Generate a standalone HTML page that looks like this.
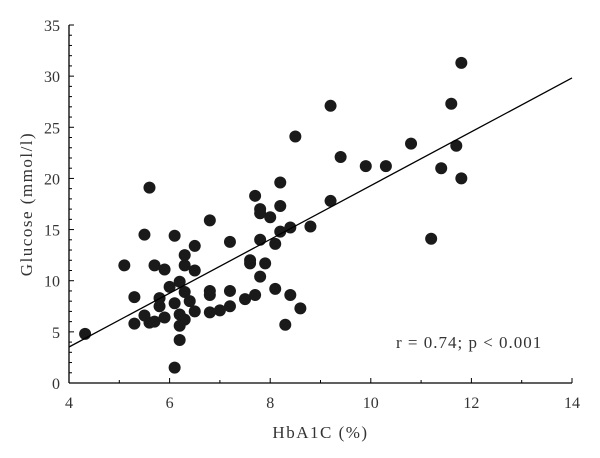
<!DOCTYPE html>
<html><head><meta charset="utf-8"><style>
body{margin:0;background:#fff}
svg{display:block;font-family:"Liberation Serif",serif}
</style></head><body>
<svg id="c" width="600" height="458"></svg>
<script>
const xVals=[4.32,5.1,5.3,5.3,5.5,5.5,5.6,5.6,5.7,5.7,5.8,5.8,5.9,5.9,6.0,6.1,6.1,6.1,6.2,6.2,6.2,6.2,6.3,6.3,6.3,6.3,6.4,6.5,6.5,6.5,6.8,6.8,6.8,6.8,7.0,7.2,7.2,7.2,7.5,7.6,7.6,7.7,7.7,7.8,7.8,7.8,7.8,7.9,8.0,8.1,8.1,8.2,8.2,8.2,8.3,8.4,8.4,8.6,8.5,8.8,9.2,9.2,9.4,9.9,10.3,10.8,11.2,11.4,11.6,11.7,11.8,11.8];
const yVals=[4.8,11.5,8.4,5.8,14.5,6.6,19.1,5.9,11.5,6.0,8.3,7.5,11.1,6.4,9.4,14.4,7.8,1.5,9.9,6.7,5.6,4.2,12.5,11.5,8.9,6.2,8.0,13.4,11.0,7.0,15.9,9.0,8.6,6.9,7.1,13.8,9.0,7.5,8.2,12.0,11.7,8.6,18.3,17.0,16.6,14.0,10.4,11.7,16.2,13.6,9.2,19.6,17.3,14.8,5.7,15.2,8.6,7.3,24.1,15.3,27.1,17.8,22.1,21.2,21.2,23.4,14.1,21.0,27.3,23.2,20.0,31.3];
const xTicks=[4,6,8,10,12,14];
const yTicks=[0,5,10,15,20,25,30,35];
const fitSlope=2.63, fitIntercept=-7.0;
const NS="http://www.w3.org/2000/svg";
const svg=document.getElementById('c');
const L=69,R=572,T=25,B=383,x0=4,x1=14,y0=0,y1=35;
const sx=v=>L+(v-x0)/(x1-x0)*(R-L);
const sy=v=>B-(v-y0)/(y1-y0)*(B-T);
function mk(t,a){const e=document.createElementNS(NS,t);for(const k in a)e.setAttribute(k,a[k]);svg.appendChild(e);return e;}
let e;
e=mk('line',{x1:L,y1:T,x2:L,y2:B,stroke:'#000','stroke-width':1.3});


e=mk('line',{x1:L,y1:B,x2:R,y2:B,stroke:'#000','stroke-width':1.3});


for(let v=y0;v<=y1;v+=1){const maj=v%5===0;
e=mk('line',{x1:L,y1:sy(v),x2:L+(maj?5:3),y2:sy(v),stroke:'#000','stroke-width':1});

}
for(let v=x0;v<=x1;v+=1){const maj=v%2===0;
e=mk('line',{x1:sx(v),y1:B,x2:sx(v),y2:B-(maj?5:3),stroke:'#000','stroke-width':1});

}
yTicks.forEach(v=>{e=mk('text',{x:L-9,y:sy(v)+6,'text-anchor':'end','font-size':16,fill:'#333'});e.textContent=v;

});
xTicks.forEach(v=>{e=mk('text',{x:sx(v),y:B+25,'text-anchor':'middle','font-size':16,fill:'#333'});e.textContent=v;

});
e=mk('text',{x:sx(9),y:438,'text-anchor':'middle','font-size':17,'letter-spacing':1.5,fill:'#333'});e.textContent='HbA1C (%)';


e=mk('text',{x:0,y:0,'text-anchor':'middle','font-size':17,'letter-spacing':1.5,fill:'#333',transform:`translate(32,${(T+B)/2}) rotate(-90)`});e.textContent='Glucose (mmol/l)';


xVals.forEach((x,i)=>{e=mk('circle',{cx:sx(x),cy:sy(yVals[i]),r:6,fill:'#1a1a1a'});

});
e=mk('line',{x1:sx(x0),y1:sy(fitSlope*x0+fitIntercept),x2:sx(x1),y2:sy(fitSlope*x1+fitIntercept),stroke:'#000','stroke-width':1.3});


e=mk('text',{x:396,y:348,'font-size':17,'letter-spacing':1,fill:'#333'});e.textContent='r = 0.74; p < 0.001';


</script>
</body></html>
